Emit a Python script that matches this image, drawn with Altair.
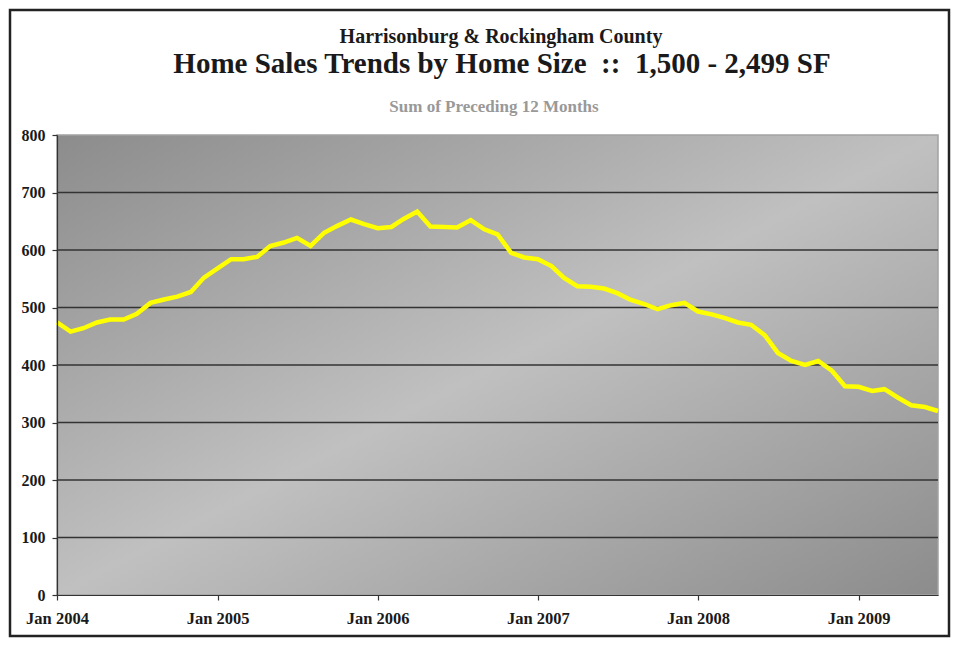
import altair as alt
import pandas as pd

# ---- data -------------------------------------------------------------
months = pd.date_range("2004-01-01", periods=67, freq="MS").strftime("%Y/%m/%d").tolist()
sales = [474, 458, 464, 474, 479, 479, 489, 508, 514, 519, 527, 552,
         568, 584, 584, 588, 607, 613, 621, 607, 630, 642, 653, 645,
         638, 640, 654, 667, 641, 640, 639, 652, 636, 627, 595, 587,
         584, 572, 552, 537, 536, 533, 525, 513, 506, 497, 504, 508,
         493, 488, 482, 474, 470, 452, 421, 407, 400, 407, 390, 363,
         362, 355, 358, 343, 330, 327, 320]
y_ticks = [0, 100, 200, 300, 400, 500, 600, 700, 800]
grid_values = [100, 200, 300, 400, 500, 600, 700]
x_tick_years = [2004, 2005, 2006, 2007, 2008, 2009]

title_top = "Harrisonburg & Rockingham County"
title_main = "Home Sales Trends by Home Size \u00a0::\u00a0 1,500 - 2,499 SF"
title_sub = "Sum of Preceding 12 Months"

df = pd.DataFrame({"month": months, "sales": sales})
grid_df = pd.DataFrame({"v": grid_values})
one = pd.DataFrame({"a": [0]})

W, H = 881, 460
FONT = "Liberation Serif"

x_scale = alt.Scale(domain=[alt.DateTime(year=2004, month=1, date=1),
                            alt.DateTime(year=2009, month=7, date=1)])
y_scale = alt.Scale(domain=[0, 800], nice=False)

bg = alt.Chart(one).mark_rect(
    color=alt.Gradient(
        gradient="linear",
        x1=0, y1=0, x2=1, y2=1,
        stops=[alt.GradientStop(color="#8c8c8c", offset=0),
               alt.GradientStop(color="#c0c0c0", offset=0.5),
               alt.GradientStop(color="#8c8c8c", offset=1)],
    ),
    stroke="#a3a3a3", strokeWidth=1.5,
).encode(x=alt.value(0), x2=alt.value(W), y=alt.value(0), y2=alt.value(H))

grid = alt.Chart(grid_df).mark_rule(color="#333333", strokeWidth=1.3).encode(
    y=alt.Y("v:Q", scale=y_scale)
)

line = alt.Chart(df).mark_line(color="#ffff00", strokeWidth=4.5).encode(
    x=alt.X("month:T", scale=x_scale, title=None,
            axis=alt.Axis(values=[alt.DateTime(year=yy, month=1, date=1) for yy in x_tick_years],
                          format="%b %Y", grid=False, labelFlush=False,
                          labelOverlap=False, zindex=1, labelFontSize=16.5)),
    y=alt.Y("sales:Q", scale=y_scale, title=None,
            axis=alt.Axis(values=y_ticks, grid=False, zindex=1, labelFontSize=16)),
)

frame = alt.Chart(one).mark_rect(fill=None, stroke="#222222", strokeWidth=2.5).encode(
    x=alt.value(-47), x2=alt.value(W + 11), y=alt.value(-125), y2=alt.value(H + 41)
)

t1 = alt.Chart(one).mark_text(text=title_top, font=FONT, fontSize=20, fontWeight="bold",
                              color="#1a1a1a", align="center", baseline="alphabetic").encode(
    x=alt.value(444), y=alt.value(-91.7))
t2 = alt.Chart(one).mark_text(text=title_main, font=FONT, fontSize=29, fontWeight="bold",
                              color="#1a1a1a", align="center", baseline="alphabetic").encode(
    x=alt.value(445), y=alt.value(-61.7))
t3 = alt.Chart(one).mark_text(text=title_sub, font=FONT, fontSize=17, fontWeight="bold",
                              color="#999999", align="center", baseline="alphabetic").encode(
    x=alt.value(437), y=alt.value(-23.3))

chart = alt.layer(bg, grid, line, frame, t1, t2, t3).properties(
    width=W, height=H,
    autosize=alt.AutoSizeParams(type="none"),
    padding={"left": 49, "top": 127, "right": 13, "bottom": 43},
    background="white",
).configure_view(stroke=None).configure_axis(
    labelFont=FONT, labelFontWeight="bold", labelColor="#1a1a1a",
    domainColor="#333333", domainWidth=1.2, tickColor="#333333", tickWidth=1.2, tickSize=5,
).configure_axisY(labelPadding=7).configure_axisX(labelPadding=10)

chart.save("out.html", embed_options={"renderer": "svg", "actions": False})
